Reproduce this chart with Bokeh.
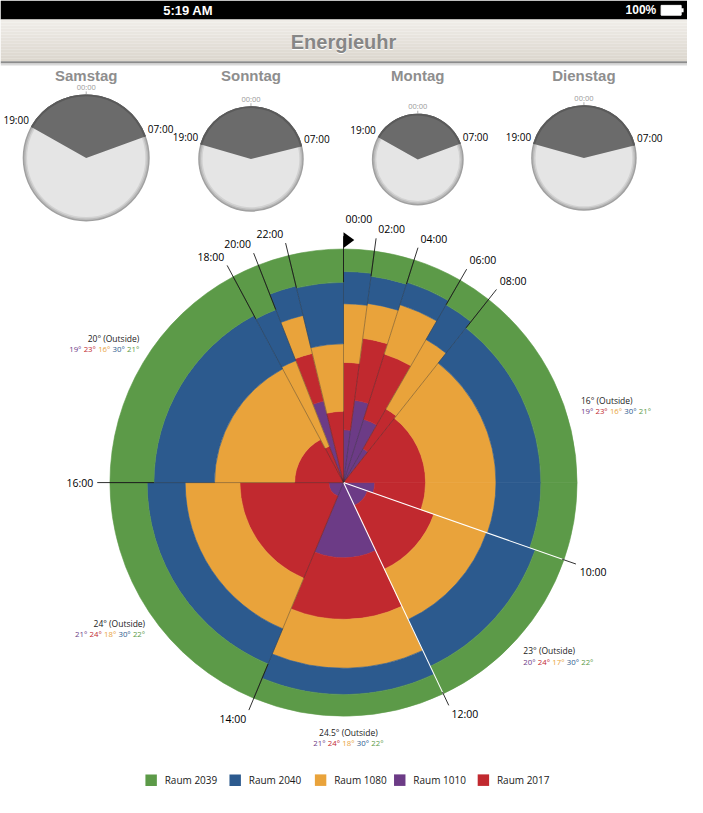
import numpy as np
from bokeh.plotting import figure
from bokeh.models import Range1d
from bokeh.core.properties import value
from bokeh.embed import file_html
from bokeh.resources import INLINE

# ---------------- data ----------------
rooms = ["Raum 1010", "Raum 2017", "Raum 1080", "Raum 2040", "Raum 2039"]   # inner -> outer
room_colors = ["#6c3b86", "#c1292f", "#e9a33b", "#2c5a8e", "#5c9a48"]
legend_rooms = ["Raum 2039", "Raum 2040", "Raum 1080", "Raum 1010", "Raum 2017"]

seg_hour = [0, 2, 4, 6, 8, 9, 10, 12, 14, 16, 18, 20, 22]
seg_span = [7.6, 10.0, 12.4, 8.4, 51.6, 19.3, 45.4, 47.9, 67.4, 61.8, 6.8, 7.8, 13.6]  # degrees
r1010 = [54, 85, 68, 40, 0, 32, 26, 77, 15, 0, 0, 86, 0]
r2017 = [69, 64, 70, 47, 84, 52, 72, 63, 91, 50, 40, 50, 73]
r1080 = [60, 36, 53, 82, 72, 72, 57, 50, 56, 82, 94, 40, 69]
r2040 = [33, 28, 24, 41, 46, 46, 53, 27, 39, 62, 56, 31, 63]
r2039 = [23, 26, 24, 29, 37, 37, 31, 22, 38, 45, 49, 32, 34]

outside_temp = ["20", "16", "24", "23", "24.5"]
t1010 = [19, 19, 21, 20, 21]
t2017 = [23, 23, 24, 24, 24]
t1080 = [16, 16, 18, 17, 18]
t2040 = [30, 30, 30, 30, 30]
t2039 = [21, 21, 22, 22, 22]

days = ["Samstag", "Sonntag", "Montag", "Dienstag"]
day_radius = [65, 54, 47, 54]
night_from = [299.4, 286.0, 299.4, 285.7]   # clock angle of 19:00 mark
night_to = [70.0, 76.0, 69.6, 76.0]         # clock angle of 07:00 mark
night_labels = ["19:00", "07:00"]

# ---------------- layout ----------------
W, H = 703, 813
def Y(y):
    return H - y

p = figure(width=687, height=795, x_range=Range1d(0, W), y_range=Range1d(0, H),
           output_backend="svg", toolbar_location=None, min_border=0,
           background_fill_color="white", border_fill_color="white")
p.axis.visible = False
p.xgrid.visible = False
p.ygrid.visible = False
p.outline_line_color = None

OS = value("Open Sans")
LS = value("Liberation Sans")

def txt(xs, ys, texts, size, color="#111111", align="center", baseline="middle",
        font=OS, style="normal"):
    p.text(x=list(xs), y=[Y(v) for v in ys], text=list(texts), text_font=font,
           text_font_size=value(size), text_color=color, text_align=align,
           text_baseline=baseline, text_font_style=style)

# ---- status bar ----
p.quad(left=[0], right=[W], top=[Y(0)], bottom=[Y(19.5)], fill_color="black", line_color=None)
txt([192], [10], ["5:19 AM"], "13px", color="white", font=LS, style="bold")
txt([671], [10], ["100%"], "12px", color="white", font=LS, style="bold", align="right")
p.quad(left=[676], right=[696.5], top=[Y(5)], bottom=[Y(15)], fill_color="white",
       line_color="white", line_width=1)
p.quad(left=[696.5], right=[699], top=[Y(8)], bottom=[Y(12)], fill_color="white", line_color=None)

# ---- header ----
nb = 14
c0 = np.array([240, 237, 232]); c1 = np.array([220, 215, 206])
hb = np.linspace(19.5, 62, nb + 1)
hcols = ["#%02x%02x%02x" % tuple((c0 + (c1 - c0) * i / (nb - 1)).astype(int)) for i in range(nb)]
p.quad(left=[0] * nb, right=[W] * nb, top=[Y(v) for v in hb[:-1]], bottom=[Y(v) for v in hb[1:]],
       fill_color=hcols, line_color=None)
p.quad(left=[0], right=[W], top=[Y(62)], bottom=[Y(64.5)], fill_color="#8c8c8c", line_color=None)
p.quad(left=[0], right=[W], top=[Y(64.5)], bottom=[Y(66.5)], fill_color="#d9d9d9", line_color=None)
txt([351], [43], ["Energieuhr"], "20px", color="#ffffff", font=LS, style="bold")
txt([351], [42], ["Energieuhr"], "20px", color="#868686", font=LS, style="bold")

# ---- day clocks ----
clock_x = [87.7, 256.3, 427.0, 597.0]
clock_y = [161, 162, 162.7, 161]
cxs = clock_x
cys = [Y(v) for v in clock_y]
rr = np.array(day_radius, dtype=float)
for dr, col in [(0, "#a0a0a0"), (1.5, "#bbbbbb"), (3.0, "#d2d2d2"), (4.5, "#e5e5e5")]:
    p.circle(x=cxs, y=cys, radius=list(rr - dr), fill_color=col, line_color=None)
sa = [np.pi / 2 - np.radians(a) for a in night_from]
ea = [np.pi / 2 - np.radians(a) for a in night_to]
p.wedge(x=cxs, y=cys, radius=list(rr), start_angle=sa, end_angle=ea, direction="clock",
        fill_color="#6b6b6b", line_color=None)
p.annular_wedge(x=cxs, y=cys, inner_radius=list(rr - 2), outer_radius=list(rr), start_angle=sa,
                end_angle=ea, direction="clock", fill_color="#5a5a5a", line_color=None)
txt(clock_x, [76.7] * 4, days, "15px", color="#8e8e8e", font=LS, style="bold")
txt(clock_x, [cy - r - 7.5 for cy, r in zip(clock_y, day_radius)], ["00:00"] * 4, "7.5px", color="#9a9a9a")
p.segment(x0=clock_x, y0=[Y(cy - r) for cy, r in zip(clock_y, day_radius)],
          x1=clock_x, y1=[Y(cy - r - 3) for cy, r in zip(clock_y, day_radius)],
          line_color="#9a9a9a", line_width=0.8)
for d in range(4):
    for ang, lab in zip([night_from[d], night_to[d]], night_labels):
        t = np.radians(ang)
        px = clock_x[d] + day_radius[d] * np.sin(t)
        py = clock_y[d] - day_radius[d] * np.cos(t)
        if np.sin(t) < 0:
            txt([px - 2], [py], [lab], "10px", color="#000000", align="right", baseline="bottom")
        else:
            txt([px + 2], [py], [lab], "10px", color="#000000", align="left", baseline="bottom")

# ---- main radial chart ----
CX, CYr = 351, 493
CY = Y(CYr)
stack = np.array([r1010, r2017, r1080, r2040, r2039], dtype=float)
outer = np.cumsum(stack, axis=0)
inner = outer - stack
edges = np.concatenate([[0.0], np.cumsum(seg_span)])
nseg = len(seg_hour)

wx, wy, wir, wor, wsa, wea, wfc = [], [], [], [], [], [], []
for k in range(5):
    for i in range(nseg):
        if stack[k, i] <= 0:
            continue
        wx.append(CX); wy.append(CY)
        wir.append(inner[k, i]); wor.append(outer[k, i])
        wsa.append(np.pi / 2 - np.radians(edges[i]))
        wea.append(np.pi / 2 - np.radians(edges[i + 1]))
        wfc.append(room_colors[k])
p.annular_wedge(x=wx, y=wy, inner_radius=wir, outer_radius=wor, start_angle=wsa, end_angle=wea,
                direction="clock", fill_color=wfc, line_color=wfc, line_width=0.6)

R_OUT = outer[4].max()
R_TICK = 252
for j, h in enumerate(seg_hour):
    if h % 2:
        continue
    th = np.radians(edges[j])
    s, c = np.sin(th), np.cos(th)
    white = h in (10, 12)
    if white:
        p.segment(x0=[CX], y0=[CY], x1=[CX + R_OUT * s], y1=[CY + R_OUT * c],
                  line_color="white", line_width=1.1)
        r_in = R_OUT - 2
    else:
        p.segment(x0=[CX], y0=[CY], x1=[CX + R_OUT * s], y1=[CY + R_OUT * c],
                  line_color="#2a2a2a", line_alpha=0.55, line_width=0.7)
        r_in = min(outer[3, j], outer[3, j - 1])
    p.segment(x0=[CX + r_in * s], y0=[CY + r_in * c], x1=[CX + R_TICK * s], y1=[CY + R_TICK * c],
              line_color="#1a1a1a", line_width=0.9)
    rl = 262 if h == 0 else 254
    ax, ay = CX + rl * s, CYr - rl * c
    if s > 0.05 or h == 0:
        align, ax = "left", ax + 2
    elif s < -0.05:
        align, ax = "right", ax - 2
    else:
        align = "center"
    base = "bottom" if c > 0.3 else ("top" if c < -0.3 else "middle")
    txt([ax], [ay], ["%02d:00" % h], "10.5px", color="#000000", align=align, baseline=base)
    if h == 0:
        p.patch(x=[CX, CX, CX + 11], y=[CY + 240, CY + 256, CY + 248], fill_color="black", line_color=None)

# ---- temperature annotations ----
ann_x = [142, 594, 148, 535, 356]
ann_y = [345.7, 409, 636.7, 665, 748.3]
ann_align = ["right", "left", "right", "left", "center"]
room_temps = [t1010, t2017, t1080, t2040, t2039]
STEP, GW = 14.8, 71.7
for a in range(5):
    txt([ann_x[a]], [ann_y[a]], ["%s° (Outside)" % outside_temp[a]], "8.5px",
        color="#1a1a1a", align=ann_align[a])
    if ann_align[a] == "right":
        x0 = ann_x[a] - GW
    elif ann_align[a] == "left":
        x0 = ann_x[a]
    else:
        x0 = ann_x[a] - GW / 2
    txt([x0 + k * STEP for k in range(5)], [ann_y[a] + 11] * 5,
        ["%d°" % room_temps[k][a] for k in range(5)], "7.8px",
        color=room_colors, align="left")

# ---- legend ----
leg_x = [148.3, 234.3, 321.7, 402.7, 488.3]
leg_y = 797.3
lcols = [room_colors[rooms.index(r)] for r in legend_rooms]
p.quad(left=leg_x, right=[v + 11.7 for v in leg_x], top=[Y(leg_y - 5.9)] * 5,
       bottom=[Y(leg_y + 5.9)] * 5, fill_color=lcols, line_color=None)
txt([v + 19.7 for v in leg_x], [leg_y] * 5, legend_rooms, "10px", color="#1a1a1a", align="left")

open("out.html", "w").write(file_html(p, INLINE))
